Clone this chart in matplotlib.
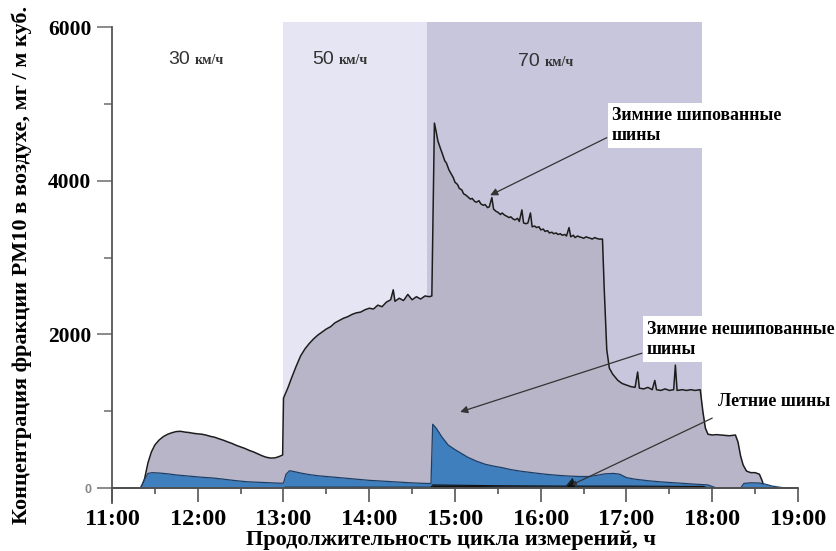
import matplotlib
matplotlib.use("Agg")
import matplotlib.pyplot as plt
from matplotlib.ticker import FixedLocator, FixedFormatter

# ---------------- data ----------------
speed_labels = ["30", "50", "70"]
speed_unit = "км/ч"
x_ticks = [11, 12, 13, 14, 15, 16, 17, 18, 19]
x_ticklabels = ["11:00", "12:00", "13:00", "14:00", "15:00", "16:00", "17:00", "18:00", "19:00"]
y_ticks = [0, 2000, 4000, 6000]
y_ticklabels = ["0", "2000", "4000", "6000"]

# speed zones (hours)
zone50 = (13.0, 14.67)
zone70 = (14.67, 17.88)

# Winter studded tyres (grey area)
t_studded = [11.00, 11.34, 11.38, 11.42, 11.46, 11.50, 11.55, 11.60, 11.65, 11.70, 11.75, 11.80,
             11.85, 11.90, 11.95, 12.00, 12.05, 12.10, 12.15, 12.20, 12.25, 12.30, 12.35, 12.40,
             12.45, 12.50, 12.55, 12.60, 12.65, 12.70, 12.75, 12.80, 12.85, 12.90, 12.95, 12.99,
             13.00, 13.05, 13.10, 13.15, 13.20, 13.25, 13.30, 13.35, 13.40, 13.45, 13.50, 13.55,
             13.60, 13.65, 13.70, 13.75, 13.80, 13.85, 13.90, 13.95, 14.00, 14.05, 14.10, 14.15,
             14.20, 14.25, 14.28, 14.30, 14.35, 14.40, 14.45, 14.50, 14.55, 14.60, 14.65, 14.70,
             14.73, 14.76, 14.78, 14.80, 14.83, 14.85, 14.88, 14.90, 14.93, 14.95, 14.98, 15.00,
             15.03, 15.05, 15.08, 15.10, 15.13, 15.15, 15.18, 15.20, 15.23, 15.25, 15.28, 15.30,
             15.33, 15.35, 15.38, 15.40, 15.43, 15.45, 15.48, 15.50, 15.53, 15.55, 15.58, 15.60,
             15.63, 15.65, 15.68, 15.70, 15.73, 15.75, 15.78, 15.80, 15.83, 15.85, 15.88, 15.90,
             15.93, 15.95, 15.98, 16.00, 16.03, 16.05, 16.08, 16.10, 16.13, 16.15, 16.18, 16.20,
             16.23, 16.25, 16.28, 16.30, 16.33, 16.35, 16.38, 16.40, 16.43, 16.45, 16.48, 16.50,
             16.53, 16.55, 16.58, 16.60, 16.63, 16.65, 16.68, 16.72, 16.74, 16.77, 16.80,
             16.84, 16.90, 16.95, 17.00, 17.05, 17.10, 17.13, 17.15, 17.20, 17.25, 17.30, 17.33,
             17.35, 17.40, 17.45, 17.50, 17.55, 17.57, 17.59, 17.65, 17.70, 17.75, 17.80, 17.86,
             17.89, 17.92, 17.95, 18.00, 18.05, 18.10, 18.15, 18.20, 18.27, 18.30, 18.33, 18.36,
             18.40, 18.45, 18.50, 18.55, 18.58, 18.61, 19.00]
v_studded = [0, 0, 120, 330, 470, 560, 625, 670, 700, 720, 735, 738,
             728, 722, 712, 705, 700, 688, 672, 660, 640, 622, 600, 580,
             555, 535, 515, 490, 470, 445, 420, 400, 390, 392, 410, 430,
             1170, 1300, 1450, 1590, 1720, 1810, 1880, 1940, 1990, 2030, 2070, 2100,
             2150, 2180, 2210, 2230, 2260, 2280, 2290, 2320, 2340, 2330, 2380, 2360,
             2420, 2450, 2580, 2430, 2470, 2440, 2520, 2450, 2490, 2460, 2500, 2490,
             2500, 4750, 4640, 4520, 4420, 4360, 4260, 4230, 4140, 4100, 4040, 3980,
             3950, 3900, 3880, 3830, 3810, 3790, 3760, 3770, 3730, 3720, 3740, 3700,
             3680, 3690, 3650, 3660, 3780, 3630, 3600, 3590, 3560, 3580, 3550, 3540,
             3520, 3530, 3500, 3490, 3510, 3470, 3620, 3450, 3440, 3450, 3580, 3400,
             3410, 3390, 3400, 3360, 3370, 3340, 3350, 3320, 3330, 3310, 3320, 3300,
             3310, 3290, 3300, 3280, 3390, 3270, 3290, 3260, 3280, 3270, 3260, 3250,
             3270, 3260, 3250, 3240, 3260, 3250, 3240, 3240, 2600, 1800, 1560,
             1480, 1400, 1360, 1340, 1320, 1310, 1510, 1300, 1290, 1310, 1280, 1400,
             1280, 1270, 1290, 1270, 1280, 1600, 1270, 1280, 1270, 1280, 1270, 1280,
             1000, 780, 700, 690, 695, 690, 685, 680, 690, 600, 420, 300,
             220, 200, 200, 180, 100, 0, 0]

# Winter non-studded tyres (blue area)
t_nonstudded = [11.00, 11.33, 11.38, 11.42, 11.47, 11.55, 11.65, 11.75, 11.85, 11.95, 12.05, 12.18,
                12.30, 12.45, 12.57, 12.70, 12.85, 12.97, 13.00, 13.03, 13.07, 13.12, 13.20, 13.30,
                13.40, 13.55, 13.70, 13.85, 14.00, 14.15, 14.30, 14.45, 14.60, 14.72, 14.74, 14.78,
                14.85, 14.92, 15.00, 15.06, 15.15, 15.25, 15.35, 15.45, 15.55, 15.65, 15.76, 15.90,
                16.05, 16.20, 16.34, 16.45, 16.57, 16.65, 16.75, 16.85, 16.92, 17.00, 17.10, 17.25,
                17.40, 17.60, 17.80, 17.95, 18.00, 18.05, 18.33, 18.37, 18.45, 18.55, 18.62, 18.70,
                18.80, 18.87, 19.00]
v_nonstudded = [0, 0, 110, 190, 200, 195, 185, 170, 160, 150, 140, 130,
                115, 95, 82, 75, 68, 62, 65, 180, 225, 215, 195, 175,
                160, 145, 130, 115, 100, 90, 80, 70, 62, 58, 830, 780,
                660, 560, 500, 460, 400, 350, 310, 285, 265, 240, 220, 200,
                180, 165, 155, 150, 150, 165, 185, 190, 180, 135, 115, 95,
                80, 65, 50, 40, 20, 0, 0, 60, 68, 65, 50, 25,
                8, 0, 0]

# Summer tyres (black)
t_summer = [11.00, 13.00, 13.02, 14.72, 14.74, 15.50, 16.30, 16.37, 16.39, 17.00, 17.90, 17.95, 19.00]
v_summer = [0, 0, 10, 10, 40, 30, 25, 120, 25, 25, 20, 0, 0]

# ---------------- figure ----------------
W, H = 837, 551
fig = plt.figure(figsize=(W / 100, H / 100), dpi=100)
ax = fig.add_axes([0.1338, 0.0878, 0.8196, 0.8715])
ax.set_xlim(11, 19)
ax.set_ylim(-190, 6060)

serif = ["Liberation Serif", "DejaVu Serif"]
sans = ["Liberation Sans", "DejaVu Sans"]

fill_grey = "#b8b5c8"
ax.axvspan(*zone50, ymin=190 / 6250, ymax=1, color="#e6e5f3", lw=0, zorder=0)
ax.axvspan(*zone70, ymin=190 / 6250, ymax=1, color="#c8c6dc", lw=0, zorder=0)

ax.fill_between(t_studded, 0, v_studded, color=fill_grey, lw=0, zorder=1)
ax.plot(t_studded, v_studded, color="#1c1c1c", lw=1.1, zorder=2)

ax.fill_between(t_nonstudded, 0, v_nonstudded, color="#3f7fbd", lw=0, zorder=3)
ax.plot(t_nonstudded, v_nonstudded, color="#1d3f66", lw=0.9, zorder=4)

ax.fill_between(t_summer, 0, v_summer, color="#111111", lw=0, zorder=5)
ax.plot(t_summer, v_summer, color="#111111", lw=0.8, zorder=5)

# axes styling
for s in ["top", "right"]:
    ax.spines[s].set_visible(False)
ax.spines["left"].set_bounds(-190, 6000)
ax.spines["left"].set_color("#555555")
ax.spines["left"].set_linewidth(1.3)
ax.spines["bottom"].set_position(("data", 0))
ax.spines["bottom"].set_bounds(11, 19)
ax.spines["bottom"].set_color("#555555")
ax.spines["bottom"].set_linewidth(1.3)
ax.spines["bottom"].set_zorder(6)

ax.xaxis.set_major_locator(FixedLocator(x_ticks))
ax.xaxis.set_major_formatter(FixedFormatter(x_ticklabels))
ax.xaxis.set_minor_locator(FixedLocator([11.5, 12.5, 13.5, 14.5, 15.5, 16.5, 17.5, 18.5]))
ax.tick_params(axis="x", which="major", direction="out", length=10, width=1.2, color="#555555", pad=5)
ax.tick_params(axis="x", which="minor", direction="out", length=4, width=1.2, color="#555555")

ax.yaxis.set_major_locator(FixedLocator(y_ticks))
ax.yaxis.set_major_formatter(FixedFormatter(y_ticklabels))
ax.yaxis.set_minor_locator(FixedLocator([1000, 3000, 5000]))
ax.tick_params(axis="y", which="major", direction="out", length=11, width=1.2, color="#777777", pad=4)
ax.tick_params(axis="y", which="minor", direction="out", length=5.5, width=1.2, color="#777777")

for lab in ax.get_xticklabels():
    lab.set_fontfamily(serif)
    lab.set_fontweight("bold")
    lab.set_fontsize(17.5)
for lab in ax.get_yticklabels():
    lab.set_fontfamily(serif)
    lab.set_fontweight("bold")
    lab.set_fontsize(15.5)
ylabs = ax.get_yticklabels()
ylabs[0].set_fontsize(9)
ylabs[0].set_color("#888888")
ylabs[0].set_fontfamily(sans)

fig.text(0.026, 0.519, "Концентрация фракции PM10 в воздухе, мг / м куб.", rotation=90,
         ha="center", va="center", fontsize=16, fontweight="bold", family=serif)
fig.text(0.539, 0.02, "Продолжительность цикла измерений, ч", ha="center", va="center",
         fontsize=16, fontweight="bold", family=serif)

# speed labels
for lbl, tx, tu, yb in [(speed_labels[0], 11.653, 11.96, 5525),
                         (speed_labels[1], 13.33, 13.64, 5525),
                         (speed_labels[2], 15.735, 16.045, 5490)]:
    ax.text(tx, yb, lbl, ha="left", va="baseline", fontsize=14, color="#333333", family=sans, zorder=7)
    ax.text(tu, yb, speed_unit, ha="left", va="baseline", fontsize=10, color="#333333",
            family=serif, fontweight="bold", zorder=7)

# annotations
box = dict(facecolor="white", edgecolor="none", pad=3)
ax.text(16.83, 4960, "Зимние шипованные\nшины", ha="left", va="top", fontsize=12.8,
        fontweight="bold", family=serif, bbox=box, linespacing=1.25, zorder=8)
ax.text(17.24, 2180, "Зимние нешипованные\nшины", ha="left", va="top", fontsize=12.8,
        fontweight="bold", family=serif, bbox=box, linespacing=1.25, zorder=8)
ax.text(18.07, 1130, "Летние шины", ha="left", va="center", fontsize=12.8,
        fontweight="bold", family=serif, bbox=box, zorder=8)

arrow = dict(arrowstyle="-|>", color="#333333", lw=0.9, mutation_scale=11, shrinkA=0, shrinkB=0)
ax.annotate("", xy=(15.41, 3810), xytext=(16.77, 4560), arrowprops=arrow, zorder=7)
ax.annotate("", xy=(15.06, 990), xytext=(17.18, 1755), arrowprops=arrow, zorder=7)
ax.annotate("", xy=(16.36, 40), xytext=(18.0, 910),
            arrowprops=dict(arrowstyle="-|>", color="#333333", lw=0.9, mutation_scale=6,
                            shrinkA=0, shrinkB=0), zorder=7)

fig.savefig("out.png", dpi=100)
